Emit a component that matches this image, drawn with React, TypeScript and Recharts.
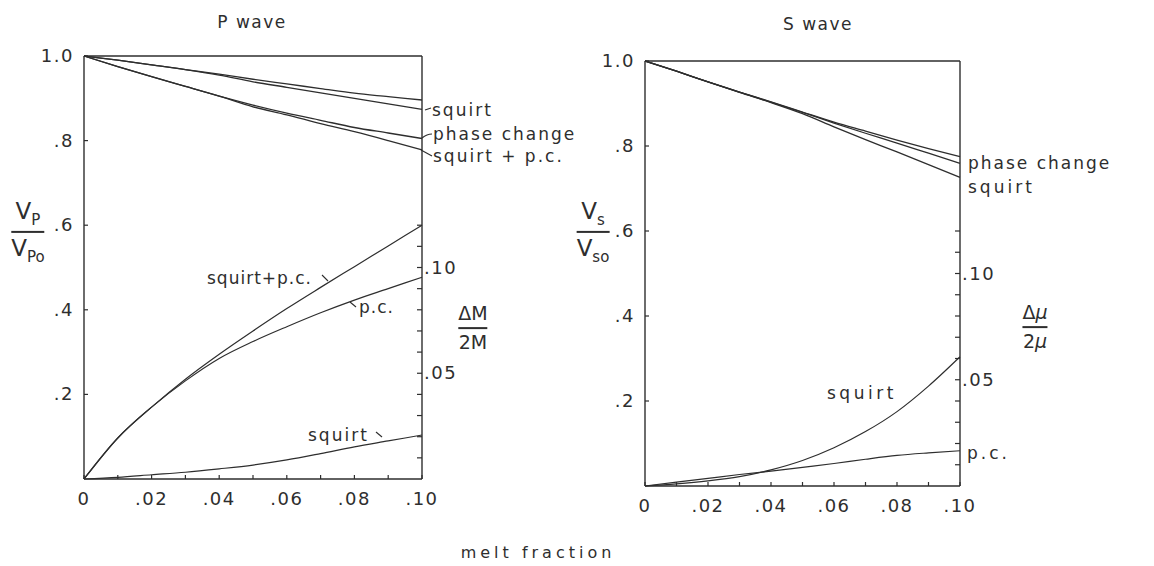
import { Line, LineChart, ReferenceLine, XAxis, YAxis } from 'recharts'

const INK = '#2e2e2e'
const FONT = '"DejaVu Sans", "Liberation Sans", sans-serif'

const meltFraction = [0, 0.01, 0.02, 0.03, 0.04, 0.05, 0.06, 0.07, 0.08, 0.09, 0.1]
const xTickLabels = ['0', '', '.02', '', '.04', '', '.06', '', '.08', '', '.10']

const velTicks = [0.2, 0.4, 0.6, 0.8, 1.0]
const velTickLabels = ['.2', '.4', '.6', '.8', '1.0']

const attTicks = [0.01, 0.02, 0.03, 0.04, 0.05, 0.06, 0.07, 0.08, 0.09, 0.1, 0.11, 0.12]
const attTickLabels = ['', '', '', '', '.05', '', '', '', '', '.10', '', '']

// P wave: Vp / Vpo
const pVelTop = [1, 0.99, 0.979, 0.968, 0.957, 0.945, 0.934, 0.923, 0.912, 0.904, 0.896]
const pVelSquirt = [1, 0.99, 0.979, 0.968, 0.955, 0.939, 0.926, 0.913, 0.9, 0.887, 0.874]
const pVelPhaseChange = [1, 0.975, 0.951, 0.928, 0.905, 0.884, 0.865, 0.848, 0.831, 0.818, 0.805]
const pVelSquirtPc = [1, 0.975, 0.951, 0.928, 0.905, 0.88, 0.861, 0.84, 0.821, 0.8, 0.778]
// P wave: ΔM / 2M
const pAttSquirtPc = [0, 0.0194, 0.034, 0.0472, 0.059, 0.07, 0.0806, 0.0906, 0.1004, 0.1102, 0.12]
const pAttPc = [0, 0.0194, 0.034, 0.0464, 0.057, 0.065, 0.072, 0.0786, 0.0846, 0.09, 0.0954]
const pAttSquirt = [0, 0.0008, 0.002, 0.0032, 0.0048, 0.0066, 0.009, 0.012, 0.0152, 0.018, 0.0208]

// S wave: Vs / Vso
const sVelTop = [1, 0.976, 0.951, 0.927, 0.904, 0.88, 0.856, 0.835, 0.814, 0.794, 0.775]
const sVelPhaseChange = [1, 0.976, 0.951, 0.927, 0.903, 0.879, 0.854, 0.83, 0.807, 0.783, 0.759]
const sVelSquirt = [1, 0.976, 0.951, 0.926, 0.902, 0.876, 0.845, 0.815, 0.786, 0.756, 0.726]
// S wave: Δμ / 2μ
const sAttSquirt = [0, 0.001, 0.0024, 0.0044, 0.0076, 0.012, 0.018, 0.0256, 0.035, 0.047, 0.0608]
const sAttPc = [0, 0.0018, 0.0036, 0.0054, 0.007, 0.0088, 0.0106, 0.0126, 0.0144, 0.0156, 0.0166]

const pRows = meltFraction.map((m, i) => ({
  m,
  top: pVelTop[i],
  squirt: pVelSquirt[i],
  phaseChange: pVelPhaseChange[i],
  squirtPc: pVelSquirtPc[i],
  attSquirtPc: pAttSquirtPc[i],
  attPc: pAttPc[i],
  attSquirt: pAttSquirt[i],
}))

const sRows = meltFraction.map((m, i) => ({
  m,
  top: sVelTop[i],
  phaseChange: sVelPhaseChange[i],
  squirt: sVelSquirt[i],
  attSquirt: sAttSquirt[i],
  attPc: sAttPc[i],
}))

const tickText = { fontSize: 18, fill: INK, fontFamily: FONT, letterSpacing: 1.5 }

function XTick(props: any) {
  const { x, y, index } = props
  const label = xTickLabels[index]
  return (
    <g>
      <line x1={x} x2={x} y1={y} y2={y - 4} stroke={INK} strokeWidth={1.2} />
      {label && (
        <text x={x} y={y + 26} textAnchor="middle" {...tickText}>
          {label}
        </text>
      )}
    </g>
  )
}

function VelTick(props: any) {
  const { x, y, index } = props
  return (
    <g>
      <line x1={x} x2={x + 4} y1={y} y2={y} stroke={INK} strokeWidth={1.2} />
      <text x={x - 10} y={y + 6} textAnchor="end" {...tickText}>
        {velTickLabels[index]}
      </text>
    </g>
  )
}

function AttTick(props: any) {
  const { x, y, index } = props
  const label = attTickLabels[index]
  return (
    <g>
      <line x1={x - 5} x2={x} y1={y} y2={y} stroke={INK} strokeWidth={1.2} />
      {label && (
        <text x={x + 2} y={y + 6} textAnchor="start" {...tickText}>
          {label}
        </text>
      )}
    </g>
  )
}

function Panel({
  data,
  velKeys,
  attKeys,
  width,
  margin,
}: {
  data: Record<string, number>[]
  velKeys: string[]
  attKeys: string[]
  width: number
  margin: { top: number; right: number; bottom: number; left: number }
}) {
  const axisLine = { stroke: INK, strokeWidth: 1.4 }
  return (
    <LineChart width={width} height={566} data={data} margin={margin}>
      <XAxis
        dataKey="m"
        type="number"
        domain={[0, 0.1]}
        ticks={meltFraction}
        interval={0}
        height={1}
        tickSize={0}
        tickMargin={0}
        tickLine={false}
        axisLine={axisLine}
        tick={XTick}
      />
      <YAxis
        yAxisId="vel"
        domain={[0, 1]}
        ticks={velTicks}
        interval={0}
        width={1}
        tickSize={0}
        tickMargin={0}
        tickLine={false}
        axisLine={axisLine}
        tick={VelTick}
      />
      <YAxis
        yAxisId="att"
        orientation="right"
        domain={[0, 0.2]}
        ticks={attTicks}
        interval={0}
        width={1}
        tickSize={0}
        tickMargin={0}
        tickLine={false}
        axisLine={axisLine}
        tick={AttTick}
      />
      <ReferenceLine yAxisId="vel" y={1} stroke={INK} strokeWidth={1.4} />
      {velKeys.map((k) => (
        <Line
          key={k}
          yAxisId="vel"
          dataKey={k}
          type="monotone"
          stroke={INK}
          strokeWidth={1.3}
          dot={false}
          isAnimationActive={false}
        />
      ))}
      {attKeys.map((k) => (
        <Line
          key={k}
          yAxisId="att"
          dataKey={k}
          type="monotone"
          stroke={INK}
          strokeWidth={1.2}
          dot={false}
          isAnimationActive={false}
        />
      ))}
    </LineChart>
  )
}

function Label({
  x,
  y,
  children,
  size = 17,
  spacing = 2,
  anchor = 'start',
}: {
  x: number
  y: number
  children: React.ReactNode
  size?: number
  spacing?: number
  anchor?: 'start' | 'middle'
}) {
  return (
    <div
      style={{
        position: 'absolute',
        left: x,
        top: y,
        transform: anchor === 'middle' ? 'translate(-50%, -50%)' : 'translate(0, -50%)',
        fontFamily: FONT,
        fontSize: size,
        letterSpacing: spacing,
        color: INK,
        whiteSpace: 'nowrap',
        lineHeight: 1,
      }}
    >
      {children}
    </div>
  )
}

function Fraction({ x, y, top, bottom, size = 23 }: { x: number; y: number; top: React.ReactNode; bottom: React.ReactNode; size?: number }) {
  return (
    <div
      style={{
        position: 'absolute',
        left: x,
        top: y,
        transform: 'translate(-50%, -50%)',
        fontFamily: FONT,
        fontSize: size,
        color: INK,
        textAlign: 'center',
        lineHeight: 1.1,
      }}
    >
      <div style={{ paddingBottom: 3 }}>{top}</div>
      <div style={{ borderTop: `2px solid ${INK}`, paddingTop: 3 }}>{bottom}</div>
    </div>
  )
}

const sub = { fontSize: 15, verticalAlign: 'sub' as const }

export default function App() {
  return (
    <div style={{ position: 'absolute', left: 0, top: 0, width: 1154, height: 566, background: '#ffffff', overflow: 'hidden' }}>
      <div style={{ position: 'absolute', left: 0, top: 0 }}>
        <Panel
          data={pRows}
          velKeys={['top', 'squirt', 'phaseChange', 'squirtPc']}
          attKeys={['attSquirtPc', 'attPc', 'attSquirt']}
          width={560}
          margin={{ top: 56, right: 137, bottom: 86, left: 83 }}
        />
      </div>
      <div style={{ position: 'absolute', left: 580, top: 0 }}>
        <Panel
          data={sRows}
          velKeys={['top', 'phaseChange', 'squirt']}
          attKeys={['attSquirt', 'attPc']}
          width={574}
          margin={{ top: 61, right: 193, bottom: 79, left: 64 }}
        />
      </div>

      <svg width={1154} height={566} style={{ position: 'absolute', left: 0, top: 0, pointerEvents: 'none' }}>
        <g stroke={INK} strokeWidth={1.1} fill="none">
          <line x1={425} y1={110} x2={431} y2={108} />
          <path d="M 422 138 Q 427 134 432 134" />
          <line x1={421} y1={150} x2={432} y2={156} />
          <line x1={322} y1={275} x2={328} y2={281} />
          <line x1={350} y1={302} x2={356} y2={307} />
          <line x1={376} y1={432} x2={382} y2={437} />
        </g>
      </svg>

      <Label x={252} y={22} anchor="middle" size={17} spacing={1.5}>P wave</Label>
      <Label x={818} y={24} anchor="middle" size={17} spacing={1.5}>S wave</Label>

      <Label x={432} y={110}>squirt</Label>
      <Label x={433} y={134}>phase change</Label>
      <Label x={433} y={156}>squirt + p.c.</Label>
      <Label x={207} y={278} spacing={1}>squirt+p.c.</Label>
      <Label x={359} y={307} spacing={1}>p.c.</Label>
      <Label x={308} y={435}>squirt</Label>

      <Label x={968} y={163}>phase change</Label>
      <Label x={968} y={187} spacing={3}>squirt</Label>
      <Label x={827} y={393} spacing={3.5}>squirt</Label>
      <Label x={967} y={453} spacing={3}>p.c.</Label>

      <Label x={538} y={553} anchor="middle" size={16} spacing={4}>melt fraction</Label>

      <Fraction x={28} y={232} top={<span>V<span style={sub}>P</span></span>} bottom={<span>V<span style={sub}>Po</span></span>} />
      <Fraction x={473} y={328} size={19} top={<span>ΔM</span>} bottom={<span>2M</span>} />
      <Fraction x={593} y={232} top={<span>V<span style={sub}>s</span></span>} bottom={<span>V<span style={sub}>so</span></span>} />
      <Fraction x={1035} y={327} size={19} top={<span>Δ<i>μ</i></span>} bottom={<span>2<i>μ</i></span>} />
    </div>
  )
}
